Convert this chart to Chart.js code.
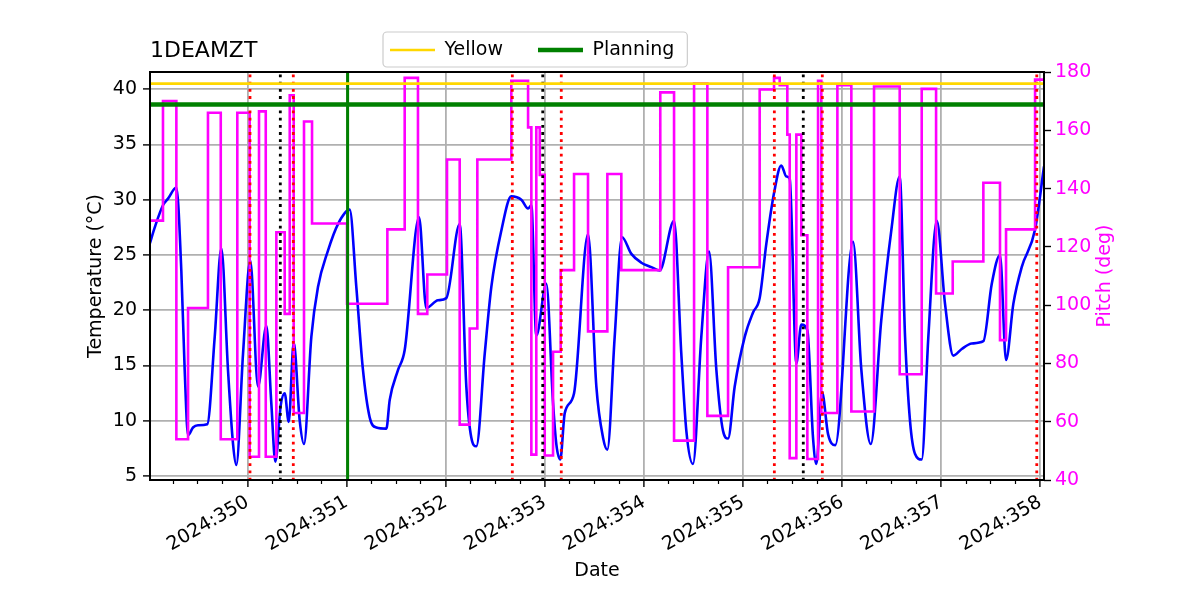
<!DOCTYPE html>
<html>
<head>
<meta charset="utf-8">
<title>1DEAMZT</title>
<script src="https://cdn.jsdelivr.net/npm/chart.js@4.4.1/dist/chart.umd.min.js"></script>
<style>
  body { margin: 0; background: #fff; }
</style>
</head>
<body>
<canvas id="myChart" width="1200" height="600"></canvas>
<script>
// x values are 2024 day-of-year (fractional)
const tempDays = [349.013, 349.064, 349.147, 349.198, 349.282, 349.332, 349.366, 349.400, 349.450, 349.500,
  349.594, 349.669, 349.736, 349.803, 349.854, 349.887, 349.955, 350.028, 350.106, 350.190,
  350.240, 350.281, 350.335, 350.375, 350.416, 350.466, 350.527, 350.570, 350.644, 350.711,
  350.812, 350.913, 351.031, 351.098, 351.165, 351.233, 351.300, 351.401, 351.435, 351.519,
  351.586, 351.731, 351.804, 351.922, 352.006, 352.141, 352.208, 352.258, 352.309, 352.394,
  352.460, 352.561, 352.662, 352.763, 352.831, 352.864, 352.914, 353.015, 353.083, 353.116,
  353.156, 353.201, 353.295, 353.436, 353.520, 353.587, 353.631, 353.705, 353.779, 353.873,
  353.974, 354.075, 354.159, 354.304, 354.377, 354.428, 354.495, 354.579, 354.657, 354.731,
  354.798, 354.849, 354.916, 355.017, 355.101, 355.168, 355.235, 355.313, 355.386, 355.437,
  355.471, 355.538, 355.588, 355.649, 355.706, 355.740, 355.797, 355.858, 355.931, 356.110,
  356.194, 356.289, 356.395, 356.496, 356.581, 356.635, 356.685, 356.736, 356.803, 356.870,
  356.955, 357.038, 357.122, 357.207, 357.308, 357.425, 357.510, 357.593, 357.654, 357.728,
  357.812, 357.947, 358.037];
const tempValues = [26.0, 27.5, 29.5, 30.1, 31.1, 23.6, 14.6, 8.7, 9.4, 9.6,
  9.7, 17.6, 25.6, 14.6, 7.9, 6.0, 16.1, 24.5, 13.1, 18.6,
  11.6, 6.3, 11.4, 12.5, 9.9, 17.1, 10.0, 7.9, 17.6, 22.1,
  25.4, 27.8, 29.1, 22.1, 14.6, 10.3, 9.4, 9.3, 11.9, 14.6,
  16.4, 28.4, 20.2, 20.9, 21.1, 27.8, 13.1, 8.5, 7.7, 16.1,
  22.1, 27.2, 30.3, 30.0, 29.2, 29.5, 17.7, 22.4, 11.6, 7.9,
  6.5, 10.7, 12.5, 26.9, 13.1, 8.5, 7.4, 17.6, 26.6, 25.1,
  24.3, 23.9, 23.6, 28.1, 16.1, 9.1, 6.1, 17.6, 25.3, 14.6,
  9.1, 8.4, 13.1, 17.6, 19.8, 21.1, 26.0, 30.6, 33.1, 32.1,
  31.9, 15.2, 18.7, 18.2, 8.5, 6.1, 12.6, 8.8, 7.8, 26.2,
  14.6, 7.9, 19.1, 27.2, 32.1, 17.6, 10.0, 7.0, 6.5, 17.6,
  28.1, 20.6, 15.9, 16.5, 17.0, 17.2, 22.4, 25.0, 15.5, 20.6,
  23.9, 27.3, 33.0];

// pitch is a step series: each value holds until the next day entry
const pitchDays = [349.016, 349.147, 349.282, 349.400, 349.601, 349.730, 349.897, 350.022, 350.116, 350.184,
  350.291, 350.375, 350.426, 350.466, 350.570, 350.651, 351.004, 351.411, 351.586, 351.720,
  351.814, 352.013, 352.141, 352.242, 352.319, 352.662, 352.831, 352.864, 352.914, 352.949,
  352.999, 353.083, 353.160, 353.295, 353.436, 353.631, 353.772, 354.165, 354.304, 354.506,
  354.640, 354.849, 355.168, 355.313, 355.370, 355.447, 355.471, 355.538, 355.588, 355.649,
  355.757, 355.790, 355.952, 356.093, 356.322, 356.581, 356.803, 356.948, 357.116, 357.425,
  357.593, 357.654, 357.947, 358.037];
const pitchValues = [129, 170, 54, 99, 166, 54, 166, 48, 166.5, 48,
  125, 97, 172, 63, 163, 128, 100.5, 126, 178, 97,
  110.5, 150, 59, 92, 150, 177, 161, 48.7, 161, 144.7,
  48.4, 84, 112, 145, 91, 145, 112, 173, 53.5, 176,
  62, 113, 174, 178, 175.5, 158.5, 47.5, 158.5, 124, 47.2,
  177, 63, 175.5, 63.5, 175, 76.3, 174.2, 104, 115, 142,
  88, 126, 177.4, 177.4];

const yellowLimit = 40.5;
const planningLimit = 38.6;
const planningDay = 351.01;
const redDays = [350.025, 350.462, 352.672, 353.166, 355.316, 355.800, 357.964];
const blackDays = [350.331, 352.979, 355.608];

const xMin = 349.016, xMax = 358.037;
const tempMin = 4.65, tempMax = 41.55;
const pitchMin = 40, pitchMax = 180;

Chart.defaults.font.family = "'DejaVu Sans', sans-serif";
Chart.defaults.font.size = 19;
Chart.defaults.color = '#000';

const xy = (xs, ys) => xs.map((x, i) => ({ x: x, y: ys[i] }));
const vert = days => days.flatMap(d => [{ x: d, y: tempMin - 2 }, { x: d, y: tempMax + 2 }, { x: d, y: null }]);
const horiz = v => [{ x: xMin - 1, y: v }, { x: xMax + 1, y: v }];

// matplotlib-like extras: title/legend placement, legend frame, spines, right label
const figureBits = {
  id: 'figureBits',
  afterLayout(chart) {
    const a = chart.chartArea;
    if (chart.titleBlock) chart.titleBlock.left = a.left;
    const lg = chart.legend;
    const pad = lg.options.labels.padding;
    const start = (lg.left + pad + lg.right - lg.lineWidths[0]) / 2;
    const shift = 390 - start;
    lg.left += shift;
    lg.right += shift;
  },
  afterDatasetsDraw(chart) {
    const { ctx, chartArea: a } = chart;
    ctx.save();
    ctx.strokeStyle = '#000';
    ctx.lineWidth = 2;
    ctx.strokeRect(a.left, a.top, a.right - a.left, a.bottom - a.top);
    ctx.restore();
  },
  afterDraw(chart) {
    const { ctx, chartArea: a } = chart;
    const lg = chart.legend;
    const pad = lg.options.labels.padding;
    const start = (lg.left + pad + lg.right - lg.lineWidths[0]) / 2;
    const end = start + lg.lineWidths[0] - pad;
    const cy = lg.top + pad + lg.options.labels.font.size / 2;
    const x0 = start - 7, x1 = end + 13, y0 = cy - 18, y1 = cy + 17, r = 4;
    ctx.save();
    ctx.strokeStyle = '#cccccc';
    ctx.lineWidth = 1.2;
    ctx.beginPath();
    ctx.moveTo(x0 + r, y0);
    ctx.arcTo(x1, y0, x1, y1, r);
    ctx.arcTo(x1, y1, x0, y1, r);
    ctx.arcTo(x0, y1, x0, y0, r);
    ctx.arcTo(x0, y0, x1, y0, r);
    ctx.closePath();
    ctx.stroke();

    ctx.translate(a.right + 61, (a.top + a.bottom) / 2);
    ctx.rotate(-Math.PI / 2);
    ctx.font = "19px 'DejaVu Sans', sans-serif";
    ctx.fillStyle = '#ff00ff';
    ctx.textAlign = 'center';
    ctx.textBaseline = 'middle';
    ctx.fillText('Pitch (deg)', 0, 0);
    ctx.restore();
  }
};

const ctx = document.getElementById('myChart').getContext('2d');
const myChart = new Chart(ctx, {
  type: 'line',
  data: {
    datasets: [
      { label: 'Yellow', data: horiz(yellowLimit), borderColor: '#ffd700', backgroundColor: '#ffd700', borderWidth: 2.6, pointRadius: 0, clip: 0 },
      { label: 'Planning', data: horiz(planningLimit), borderColor: '#008000', backgroundColor: '#008000', borderWidth: 4.5, pointRadius: 0, clip: 0 },
      { label: 'Now', data: vert([planningDay]), borderColor: '#008000', borderWidth: 3, pointRadius: 0, clip: 0 },
      { label: 'Red events', data: vert(redDays), borderColor: '#ff0000', borderWidth: 2.8, borderDash: [2.8, 4.4], pointRadius: 0, clip: 0 },
      { label: 'Black events', data: vert(blackDays), borderColor: '#000000', borderWidth: 2.8, borderDash: [2.8, 4.4], pointRadius: 0, clip: 0 },
      { label: 'Pitch', data: xy(pitchDays, pitchValues), yAxisID: 'y1', stepped: 'before', borderColor: '#ff00ff', borderWidth: 2.6, pointRadius: 0 },
      { label: 'Temperature', data: xy(tempDays, tempValues), cubicInterpolationMode: 'monotone', borderColor: '#0000ff', borderWidth: 2.6, pointRadius: 0 }
    ]
  },
  options: {
    responsive: false,
    animation: false,
    events: [],
    layout: { padding: 0 },
    plugins: {
      title: {
        display: true, text: '1DEAMZT', align: 'start', color: '#000',
        font: { size: 22, weight: 'normal' },
        padding: { top: 37.8, bottom: -58.7 }
      },
      subtitle: { display: true, text: '', weight: 500, padding: 0, font: { size: 2.5, lineHeight: 1 } },
      legend: {
        position: 'top',
        align: 'center',
        labels: {
          usePointStyle: true,
          pointStyle: 'line',
          pointStyleWidth: 45,
          padding: 35,
          color: '#000',
          font: { size: 19 },
          filter: item => item.text === 'Yellow' || item.text === 'Planning'
        }
      },
      tooltip: { enabled: false }
    },
    scales: {
      x: {
        type: 'linear',
        min: xMin,
        max: xMax,
        afterFit: s => { s.height = 120; },
        ticks: {
          stepSize: 1, includeBounds: false, autoSkip: false,
          minRotation: 30, maxRotation: 30, padding: 4, color: '#000',
          callback: v => '2024:' + v
        },
        grid: { color: '#b0b0b0', lineWidth: 1.8, tickColor: '#000', tickLength: 7, tickWidth: 1.4 },
        border: { display: false },
        title: { display: true, text: 'Date', color: '#000', padding: { top: 0, bottom: 17.6 } }
      },
      x2: {
        type: 'linear',
        axis: 'x',
        position: { y: tempMin },
        min: xMin,
        max: xMax,
        ticks: { display: false, stepSize: 0.25, includeBounds: false, autoSkip: false },
        grid: {
          drawOnChartArea: false, tickLength: 4, tickWidth: 1.2,
          tickColor: c => Number.isInteger(c.tick.value) ? 'rgba(0,0,0,0)' : '#000'
        },
        border: { display: false }
      },
      y: {
        type: 'linear',
        position: 'left',
        min: tempMin,
        max: tempMax,
        afterFit: s => { s.width = 150; },
        ticks: { stepSize: 5, includeBounds: false, padding: 6, color: '#000' },
        grid: { color: '#b0b0b0', lineWidth: 1.8, tickColor: '#000', tickLength: 7, tickWidth: 1.4 },
        border: { display: false },
        title: { display: true, text: 'Temperature (°C)', color: '#000', padding: { top: 84.6, bottom: 0 } }
      },
      y1: {
        type: 'linear',
        position: 'right',
        min: pitchMin,
        max: pitchMax,
        afterFit: s => { s.width = 156; },
        ticks: { stepSize: 20, includeBounds: false, padding: 4, color: '#ff00ff' },
        grid: { drawOnChartArea: false, tickColor: '#000', tickLength: 7, tickWidth: 1.4 },
        border: { display: false }
      }
    }
  },
  plugins: [figureBits]
});
</script>
</body>
</html>
